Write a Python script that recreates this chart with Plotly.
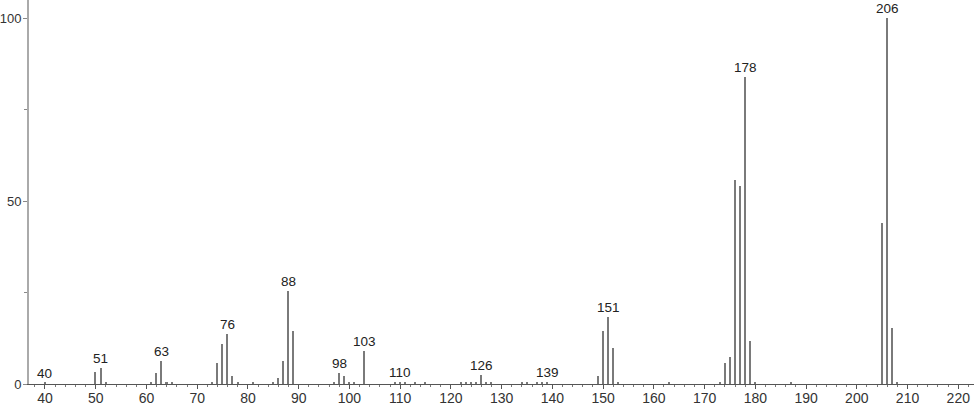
import plotly.graph_objects as go

mz = [40, 50, 51, 52, 61, 62, 63, 64, 65, 73, 74, 75, 76, 77, 78, 81, 85, 86, 87, 88, 89,
      97, 98, 99, 100, 101, 103, 109, 110, 111, 113, 115, 122, 123, 124, 125, 126, 127, 128,
      134, 135, 137, 138, 139, 149, 150, 151, 152, 153, 163, 173, 174, 175, 176, 177, 178,
      179, 180, 187, 205, 206, 207, 208]
intensity = [0.3, 3.4, 4.4, 0.6, 0.6, 2.9, 6.3, 0.5, 0.5, 0.6, 5.8, 10.9, 13.8, 2.2, 0.6, 0.4,
             0.5, 1.7, 6.3, 25.4, 14.6, 0.5, 3.1, 2.2, 0.5, 0.4, 9.0, 0.4, 0.5, 0.4, 0.4, 0.4,
             0.4, 0.4, 0.5, 0.5, 2.4, 0.6, 0.4, 0.4, 0.4, 0.4, 0.4, 0.5, 2.2, 14.5, 18.4, 9.9,
             0.4, 0.4, 0.5, 5.7, 7.5, 55.7, 54.1, 83.9, 11.8, 0.5, 0.5, 44.1, 100, 15.2, 0.5]
labeled_peaks = [40, 51, 63, 76, 88, 98, 103, 110, 126, 139, 151, 178, 206]

lookup = dict(zip(mz, intensity))
FONT = "Liberation Sans"

fig = go.Figure()
fig.add_trace(go.Bar(x=mz, y=intensity, width=0.3,
                     marker=dict(color="#7a7a7a", line=dict(width=0))))

for p in labeled_peaks:
    fig.add_annotation(x=p, y=lookup[p], text=str(p), showarrow=False,
                       yanchor="bottom", yshift=0,
                       font=dict(family=FONT, size=13.5, color="#222222"))

fig.update_layout(
    width=974, height=406,
    margin=dict(l=29, r=0, t=0, b=22, autoexpand=False),
    paper_bgcolor="white", plot_bgcolor="white",
    showlegend=False, bargap=0,
    font=dict(family=FONT, size=14, color="#333333"),
)
fig.update_xaxes(range=[36.85, 223.1], showgrid=False, zeroline=False, automargin=False,
                 showline=True, linecolor="#555555", linewidth=1,
                 tickmode="linear", tick0=40, dtick=10,
                 ticks="outside", ticklen=4, tickcolor="#555555",
                 ticklabelstandoff=-3,
                 minor=dict(ticks="outside", dtick=2, tick0=40, ticklen=2, tickcolor="#777777"),
                 tickfont=dict(family=FONT, size=14, color="#333333"))
fig.update_yaxes(range=[0, 105], showgrid=False, zeroline=False, automargin=False,
                 showline=True, linecolor="#aaaaaa", linewidth=2,
                 tickvals=[0, 50, 100], ticks="outside", ticklen=4, tickcolor="#888888",
                 ticklabelstandoff=-1,
                 minor=dict(ticks="outside", tickvals=[25, 75], ticklen=3, tickcolor="#888888"),
                 tickfont=dict(family=FONT, size=13, color="#333333"))

# remove the browser's default 8px body margin so the figure fills the window exactly
fig.write_html("out.html", config={"displayModeBar": False},
               post_script="document.body.style.margin='0';document.body.style.overflow='hidden';")
